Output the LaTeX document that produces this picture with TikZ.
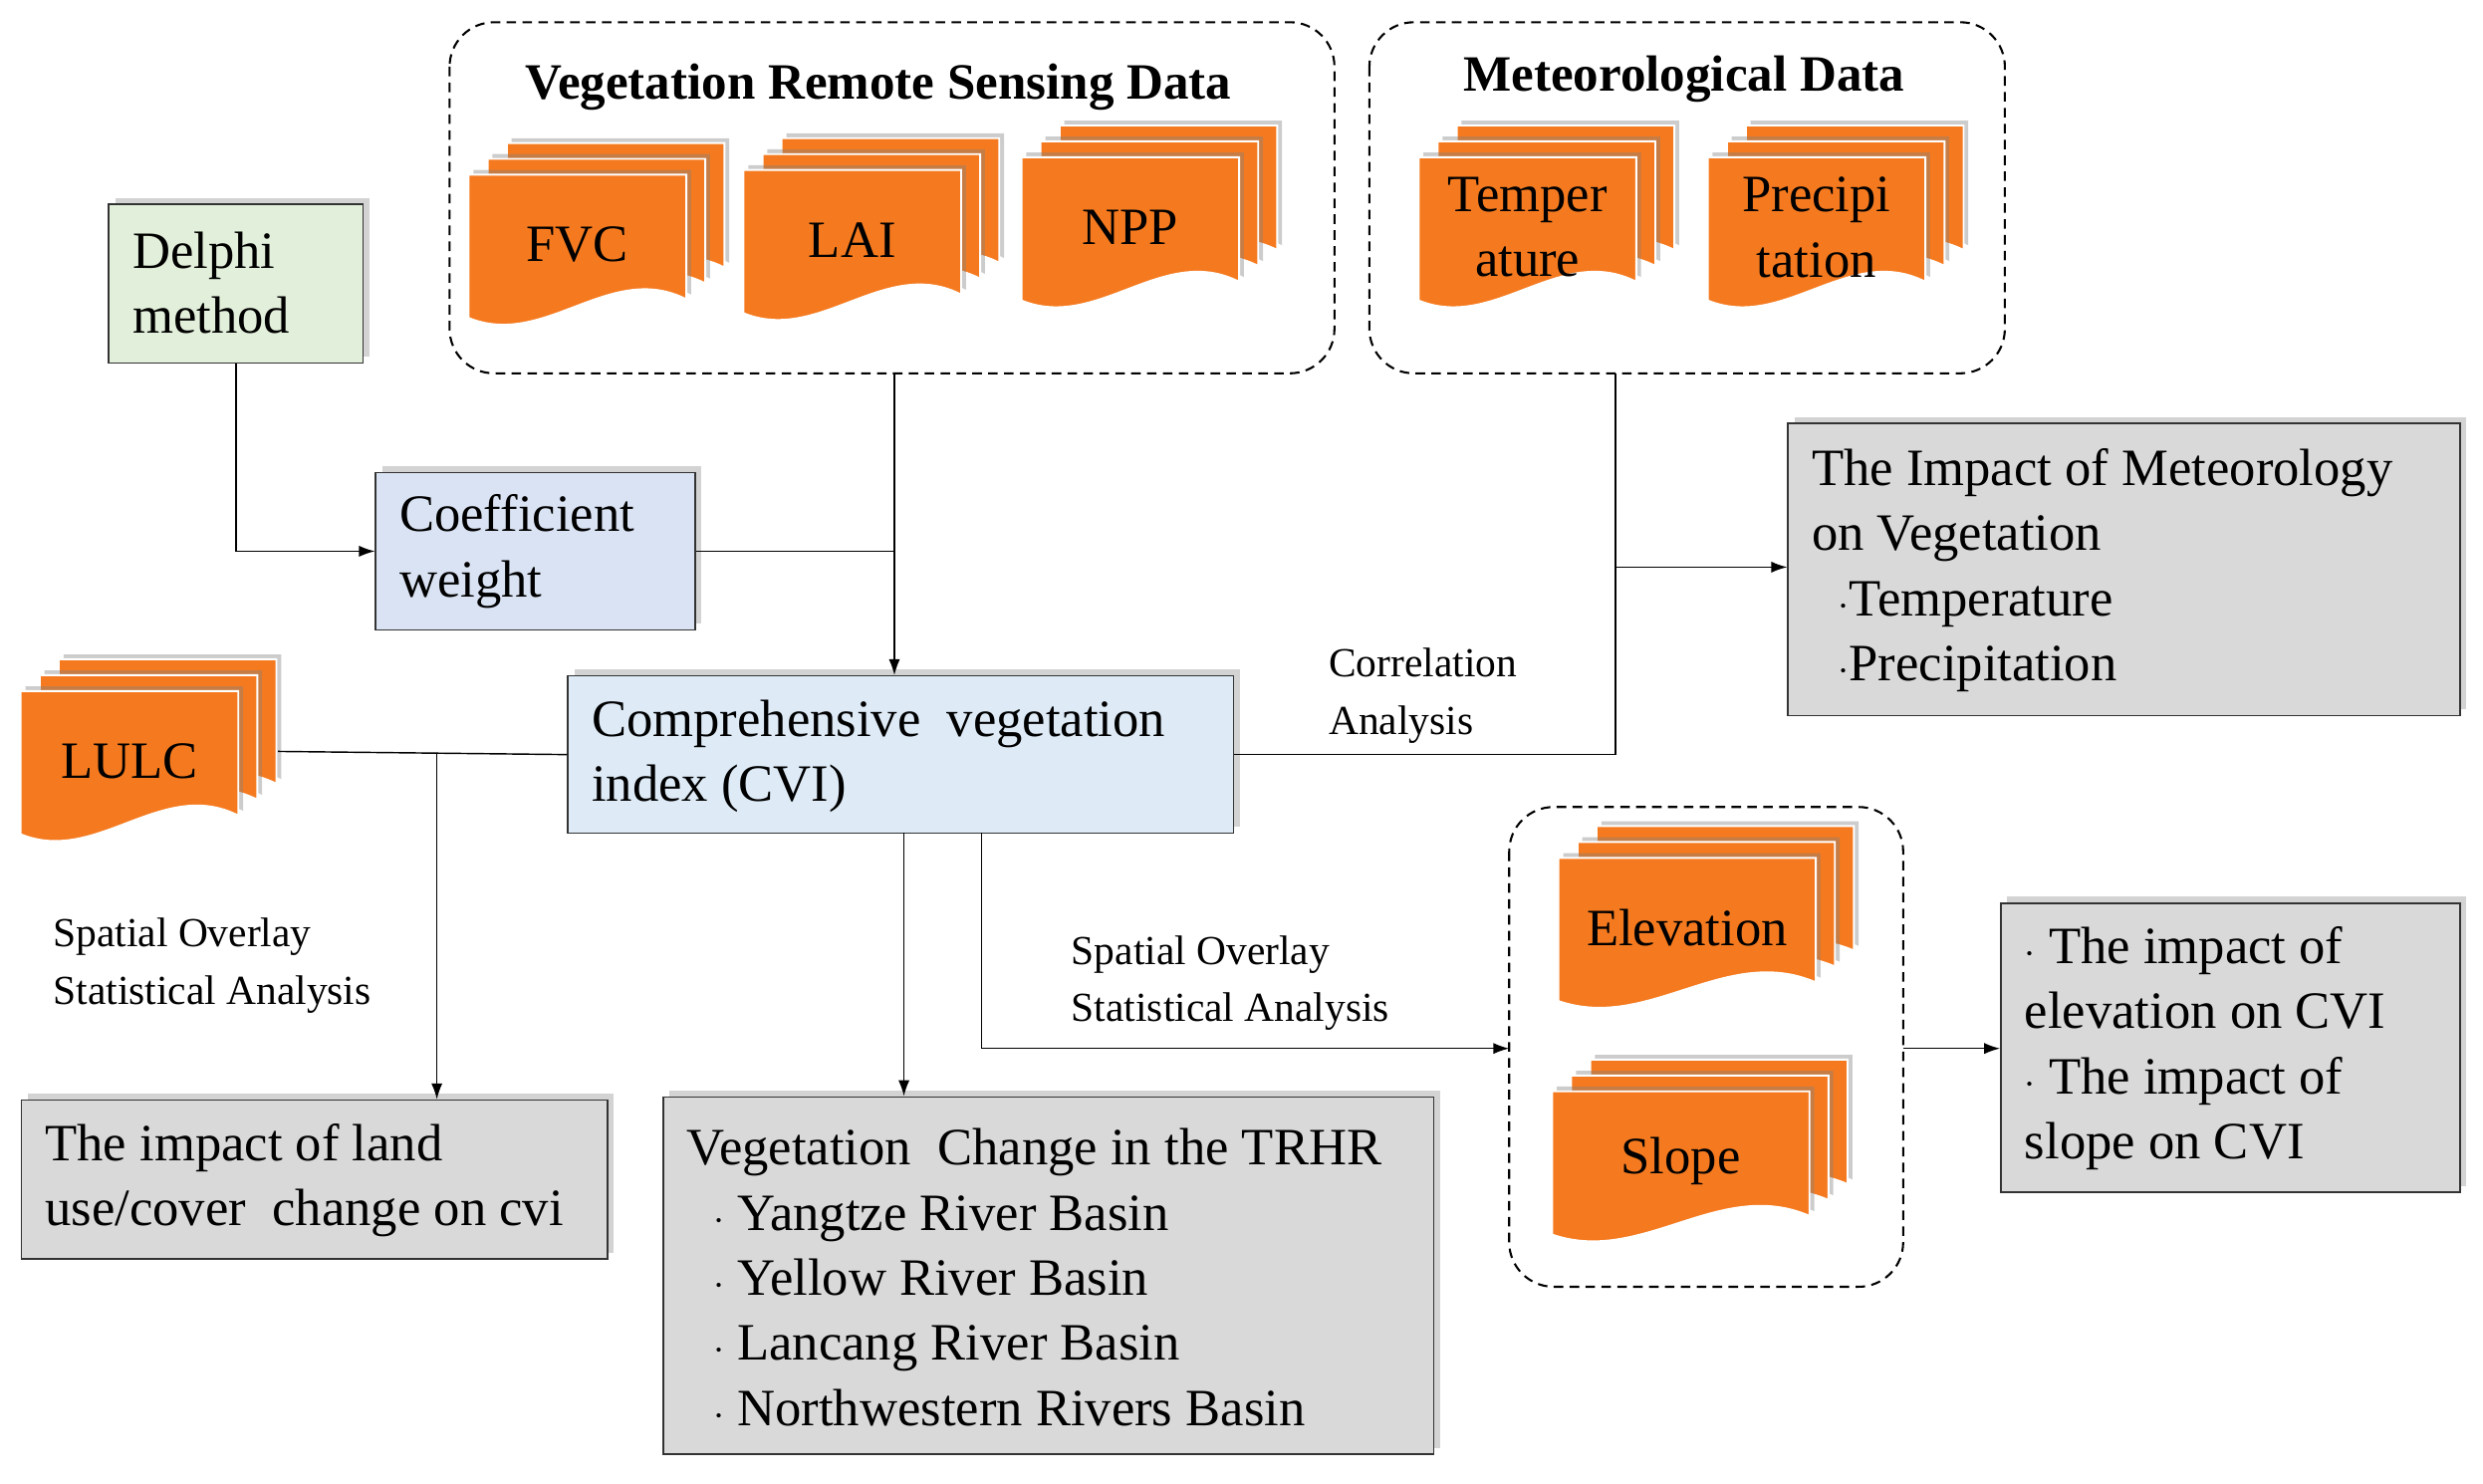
\documentclass[tikz,border=0pt]{standalone}
\usepackage{fontspec}
\setmainfont{Liberation Serif}
\usetikzlibrary{shadows,arrows.meta}
\definecolor{org}{HTML}{F57A1F}
\definecolor{grn}{HTML}{E2EFDA}
\definecolor{blu}{HTML}{DAE3F3}
\definecolor{blu2}{HTML}{DEEBF7}
\definecolor{gry}{HTML}{D9D9D9}
\tikzset{
 docst/.style={fill=org,draw=white,line width=1.2pt,drop shadow={shadow xshift=3pt,shadow yshift=3pt,opacity=.4}},
 box/.style={draw=black!80,line width=1pt,anchor=north west,inner sep=0pt,drop shadow={shadow xshift=4pt,shadow yshift=4pt,opacity=.35}},
 grp/.style={draw=black,line width=1.3pt,dash pattern=on 6pt off 4pt,rounded corners=28pt},
 arr/.style={line width=0.9pt,-{Latex[length=10pt,width=7pt]}},
 ln/.style={line width=0.9pt},
 big/.style={font=\fontsize{33}{41}\selectfont},
 lbl/.style={font=\fontsize{26}{36}\selectfont,align=left,anchor=west},
}
\newcommand\docshape[4]{%
 \path[docst] (#1,#2) -- (#1+#3,#2) -- (#1+#3,#2+0.8*#4) .. controls (#1+0.65*#3,#2+0.55*#4) and (#1+0.35*#3,#2+1.12*#4) .. (#1,#2+0.92*#4) -- cycle;}
\newcommand\docstack[7]{% name x y w h text dx
 \docshape{#2+2*#7}{#3-20}{#4}{#5}
 \docshape{#2+#7}{#3-10}{#4}{#5}
 \docshape{#2}{#3}{#4}{#5}
 \node[big,align=center] (#1) at (#2+0.5*#4,#3+0.45*#5) {#6};}
\begin{document}
\begin{tikzpicture}[x=1pt,y=-1pt]
\useasboundingbox (0,0) rectangle (1563,934);
% dashed groups
\draw[grp] (283,14) rectangle (840,235);
\node[font=\fontsize{32}{34}\selectfont\bfseries] (t1) at (553,55) {Vegetation Remote Sensing Data};
\draw[grp] (862,14) rectangle (1262,235);
\node[font=\fontsize{32}{34}\selectfont\bfseries] (t2) at (1060,50) {Meteorological Data};
\draw[grp] (950,508) rectangle (1198,810);
\coordinate (g1b) at (563,235);
\coordinate (g2b) at (1017,235);
\coordinate (g3l) at (950,660);
\coordinate (g3r) at (1198,660);
% documents
\docstack{fvc}{295}{110}{137}{98}{FVC}{12}
\docstack{lai}{468}{107}{137}{98}{LAI}{12}
\docstack{npp}{643}{99}{137}{98}{NPP}{12}
\docstack{tem}{893}{99}{137}{98}{Temper\\ature}{12}
\docstack{pre}{1075}{99}{137}{98}{Precipi\\tation}{12}
\docstack{lulc}{13}{435}{137}{98}{LULC}{12}
\docstack{ele}{981}{540}{162}{98}{Elevation}{12}
\docstack{slo}{977}{687}{162}{98}{Slope}{12}
% boxes
\node[box,fill=grn,minimum width=160pt,minimum height=100pt] (del) at (68,128) {};
\node[big,align=left,anchor=west] at (80,178) {Delphi\\method};
\node[box,fill=blu,minimum width=201pt,minimum height=99pt] (coe) at (236,297) {};
\node[big,align=left,anchor=west] at (248,347) {Coefficient\\weight};
\node[box,fill=blu2,minimum width=419pt,minimum height=99pt] (cvi) at (357,425) {};
\node[big,align=left,anchor=west] at (369,476) {Comprehensive\ \ vegetation\\index (CVI)};
\node[box,fill=gry,minimum width=423pt,minimum height=184pt] (met) at (1125,266) {};
\node[big,align=left,anchor=west] at (1137,359) {The Impact of Meteorology\\on Vegetation\\\ \ $\cdot$Temperature\\\ \ $\cdot$Precipitation};
\node[box,fill=gry,minimum width=289pt,minimum height=182pt] (imp) at (1259,568) {};
\node[big,align=left,anchor=west] at (1271,660) {$\cdot$ The impact of\\elevation on CVI\\$\cdot$ The impact of\\slope on CVI};
\node[box,fill=gry,minimum width=369pt,minimum height=100pt] (lu) at (13,692) {};
\node[big,align=left,anchor=west] at (25,743) {The impact of land\\use/cover\ \ change on cvi};
\node[box,fill=gry,minimum width=485pt,minimum height=225pt] (veg) at (417,690) {};
\node[big,align=left,anchor=west] at (429,804) {Vegetation\ \ Change in the TRHR\\\ \ $\cdot$ Yangtze River Basin\\\ \ $\cdot$ Yellow River Basin\\\ \ $\cdot$ Lancang River Basin\\\ \ $\cdot$ Northwestern Rivers Basin};
% connectors
\draw[arr] (del.south) |- (coe.west);
\draw[ln] (coe.east) -- (563,347);
\draw[arr] (g1b) -- (563,425);
\draw[ln] (g2b) |- (cvi.east);
\draw[arr] (1017,357) -- (met.west |- 0,357);
\draw[ln] (175,473) -- (cvi.west);
\draw[arr] (275,474) -- (275,692);
\draw[arr] (569,524) -- (569,690);
\draw[arr] (618,524) |- (g3l);
\draw[arr] (g3r) -- (imp.west |- g3r);
% labels
\node[lbl] (l1) at (833,438) {Correlation\\Analysis};
\node[lbl] (l2) at (30,608) {Spatial Overlay\\Statistical Analysis};
\node[lbl] (l3) at (671,619) {Spatial Overlay\\Statistical Analysis};
\end{tikzpicture}
\end{document}
